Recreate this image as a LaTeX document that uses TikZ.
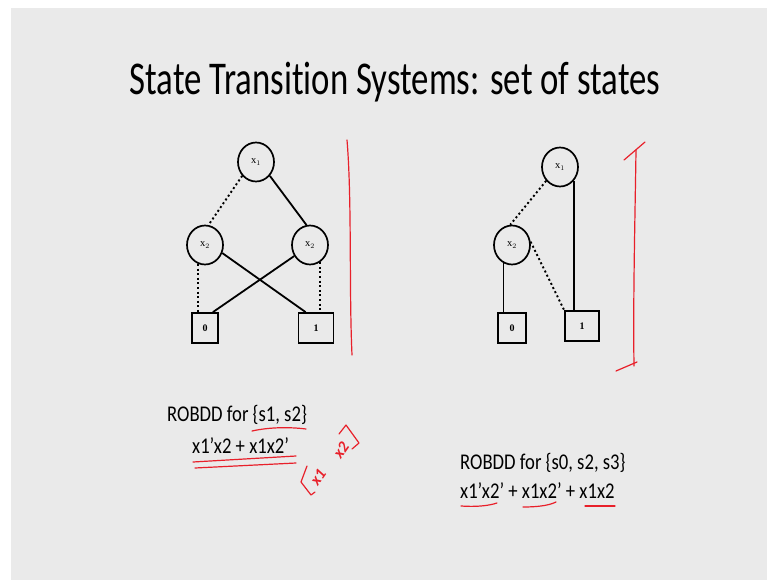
\documentclass[tikz,border=0pt]{standalone}
\usepackage{fontspec}
\usetikzlibrary{shapes.geometric}
\setmainfont{Carlito}[Ligatures={NoCommon,TeX}]
\newfontfamily\nodefont{Liberation Serif}
\definecolor{slidebg}{HTML}{EAEAEA}
\definecolor{pen}{HTML}{E8202A}
\begin{document}
\begin{tikzpicture}[x=1pt,y=-1pt,
  var/.style={ellipse, draw=black, line width=1.7pt, minimum width=36pt, minimum height=39pt, inner sep=0pt, font=\nodefont\fontsize{10.5}{12}\selectfont},
  leaf/.style={rectangle, draw=black, line width=1.7pt, minimum height=30pt, inner sep=0pt, font=\nodefont\bfseries\fontsize{10}{12}\selectfont},
  hi/.style={line width=1.8pt},
  lo/.style={line width=1.9pt, dash pattern=on 2pt off 2.6pt},
  ink/.style={draw=pen, line width=1.2pt, line cap=round, line join=round},
  scrawl/.style={text=pen, rotate=55, inner sep=0pt, font=\fontsize{16}{17}\selectfont\itshape\bfseries},
  slide/.style={font=\fontsize{22.5}{26}\selectfont, anchor=base west, inner sep=0pt, xscale=0.83}]
\useasboundingbox (0,0) rectangle (767,580);
\fill[white] (0,0) rectangle (767,580);
\fill[slidebg] (11,8) rectangle (767,580);

% title
\node[font=\fontsize{47}{52}\selectfont, inner sep=0pt, anchor=base, xscale=0.74] (title) at (395,95) {State Transition Systems: set of states};

% ---- ROBDD for {s1,s2}
\node[var] (a1) at (256,162) {x$_1$};
\node[var] (a2l) at (205,245) {x$_2$};
\node[var] (a2r) at (310,245) {x$_2$};
\node[leaf, minimum width=26pt] (a0) at (205,328) {0};
\node[leaf, minimum width=35pt] (a1t) at (316,328) {1};
\draw[lo] (a1.225) -- (a2l.80);
\draw[hi] (a1.-45) -- (a2r.100);
\draw[lo] (a2l.250) -- (a2l.250 |- a0.north);
\draw[hi] (a2l.-25) -- ([xshift=8pt]a1t.north west);
\draw[hi] (a2r.215) -- ([xshift=-6pt]a0.north east);
\draw[lo] (a2r.-60) -- (a2r.-60 |- a1t.north);

% ---- ROBDD for {s0,s2,s3}
\node[var] (b1) at (560,167) {x$_1$};
\node[var] (b2) at (512,245) {x$_2$};
\node[leaf, minimum width=28pt] (b0) at (512,328) {0};
\node[leaf, minimum width=34pt] (b1t) at (582,326) {1};
\draw[lo] (b1.225) -- (b2.95);
\draw[hi] (b1.-45) -- (b1.-45 |- b1t.north);
\draw[hi] (b2.245) -- (b2.245 |- b0.north);
\draw[lo] (b2.10) -- (b1t.north west);

% captions
\node[slide] (capa) at (167,421) {ROBDD for \{s1, s2\}};
\node[slide] (capa2) at (192,453) {x1’x2 + x1x2’};
\node[slide] (capb) at (460,469) {ROBDD for \{s0, s2, s3\}};
\node[slide] (capb2) at (460,498) {x1’x2’ + x1x2’ + x1x2};

% pen annotations: brackets and underlines
\draw[ink] (347,140) .. controls (352,200) and (349,290) .. (352,355);
\draw[ink] (636,150) .. controls (635,220) and (633,300) .. (634,366);
\draw[ink] (624,160) -- (645,142);
\draw[ink] (616,371) -- (637,362);
\draw[ink] (252,431) .. controls (270,427) and (290,427) .. (306,429);
\draw[ink] (193,462) -- (296,456);
\draw[ink] (195,468) -- (296,463);
\draw[ink] (461,506) .. controls (475,507) and (488,506) .. (497,503);
\draw[ink] (523,507) .. controls (535,507) and (548,506) .. (556,502);
\draw[ink] (585,506) -- (615,506);

% scribbled variable list
\draw[ink] (307,466) -- (301,482) -- (311,495) -- (315,492);
\node[scrawl] (hx1) at (318,477) {x1};
\node[scrawl] (hx2) at (341,450) {x2};
\draw[ink] (339,434) -- (346,425) -- (359,443) -- (352,449);
\end{tikzpicture}
\end{document}
